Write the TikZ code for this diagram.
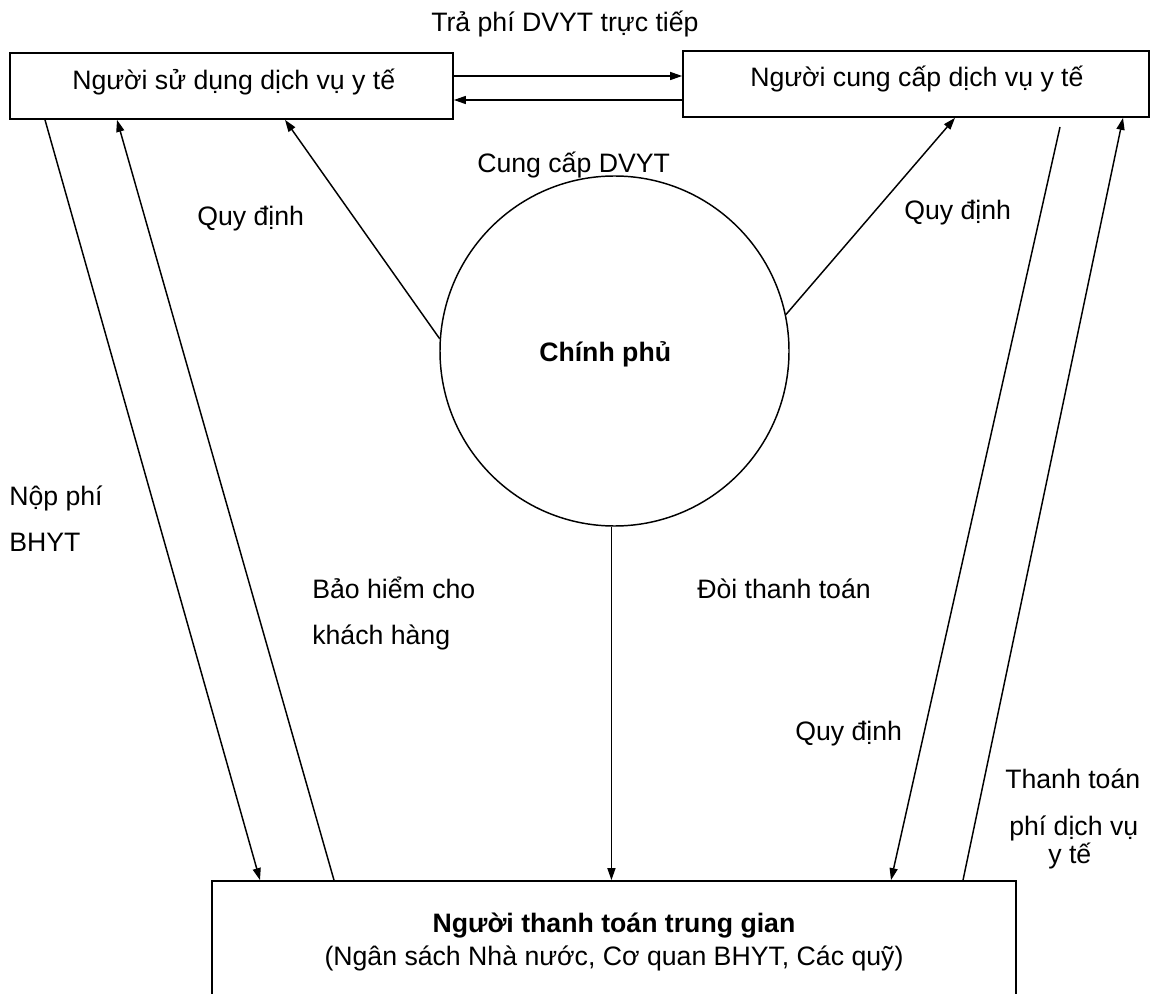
\documentclass[tikz,border=0pt]{standalone}
\usepackage{fontspec}
\setmainfont{Liberation Sans}
\usetikzlibrary{arrows.meta,shapes.geometric}

\begin{document}
\begin{tikzpicture}[x=0.75pt,y=-0.75pt,
  lbl/.style={anchor=base west,inner sep=0pt,font=\fontsize{20}{24}\selectfont},
  boxnode/.style={draw,line width=1.3pt,rectangle,inner sep=0pt},
  conn/.style={line width=1.1pt,-{Triangle[length=9pt,width=6pt]}}]
  \useasboundingbox (0,0) rectangle (1156,994);
  \clip (0,0) rectangle (1156,994);

  % boxes and the ellipse
  \node[boxnode,minimum width=332.25pt,minimum height=49.5pt] (lbox) at (231.5,86) {};
  \node[boxnode,minimum width=349.5pt,minimum height=49.5pt] (rbox) at (916,84) {};
  \node[boxnode,minimum width=603pt,minimum height=96.75pt] (bbox) at (614,945.5) {};
  \node[draw,line width=1.1pt,ellipse,inner sep=0pt,minimum width=261.75pt,minimum height=262.5pt] (ell) at (614.5,351) {};

  % texts
  \node[lbl] (tlbox) at (72,90) {Người sử dụng dịch vụ y tế};
  \node[lbl] (trbox) at (750,87) {Người cung cấp dịch vụ y tế};
  \node[lbl] (ttra) at (431,32) {Trả phí DVYT trực tiếp};
  \node[lbl] (tcung) at (477,173) {Cung cấp DVYT};
  \node[lbl] (tqdl) at (197,226) {Quy định};
  \node[lbl] (tqdr) at (904,220) {Quy định};
  \node[lbl,font=\fontsize{20}{24}\selectfont\bfseries] (tcp) at (539,362) {Chính phủ};
  \node[lbl] (tnop1) at (9,505) {Nộp phí};
  \node[lbl] (tnop2) at (9,551) {BHYT};
  \node[lbl] (tbh1) at (312,598) {Bảo hiểm cho};
  \node[lbl] (tbh2) at (312,644) {khách hàng};
  \node[lbl] (tdoi) at (697,598) {Đòi thanh toán};
  \node[lbl] (tqdb) at (795,740) {Quy định};
  \node[lbl] (ttt1) at (1005,788) {Thanh toán};
  \node[lbl] (ttt2) at (1009,835) {phí dịch vụ};
  \node[lbl] (ttt3) at (1048,863) {y tế};
  \node[lbl,anchor=base,font=\fontsize{20}{24}\selectfont\bfseries] (tbb1) at (614,932) {Người thanh toán trung gian};
  \node[lbl,anchor=base] (tbb2) at (614,965) {(Ngân sách Nhà nước, Cơ quan BHYT, Các quỹ)};

  % connectors between the two upper boxes
  \draw[conn] (lbox.east |- 0,76) -- (rbox.west |- 0,76);
  \draw[conn] (rbox.west |- 0,100) -- (lbox.east |- 0,100);

  % government rules
  \draw[conn] (ell.176) -- (285,0 |- lbox.south);
  \draw[conn] (ell.12) -- (955,0 |- rbox.south);
  \draw[conn] (ell.269) -- (ell.269 |- bbox.north);

  % insurance flows on the left
  \draw[conn] (45,0 |- lbox.south) -- (260,0 |- bbox.north);
  \draw[conn] (334,0 |- bbox.north) -- (117,0 |- lbox.south);

  % claims and payment on the right
  \coordinate (c3) at (1060,127);
  \draw[conn] (c3) -- (891,0 |- bbox.north);
  \draw[conn] (963,0 |- bbox.north) -- (1123,0 |- rbox.south);
\end{tikzpicture}
\end{document}
